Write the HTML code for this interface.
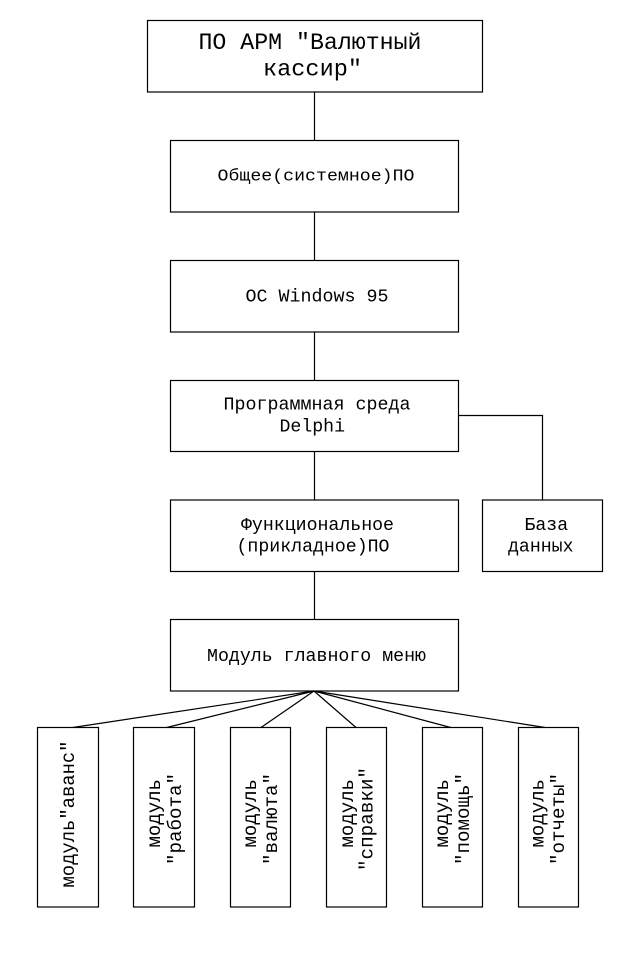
<!DOCTYPE html>
<html>
<head>
<meta charset="utf-8">
<style>
html,body{margin:0;padding:0;background:#fff;}
svg{display:block;}
text{font-family:"Liberation Mono","Noto Sans CJK JP",monospace;fill:#000;}
</style>
</head>
<body>
<svg width="618" height="957" viewBox="0 0 618 957" xmlns="http://www.w3.org/2000/svg">
<g fill="none" stroke="#000" stroke-width="1.2">
  <!-- boxes -->
  <rect x="147.5" y="20.5" width="335" height="71.5"/>
  <rect x="170.5" y="140.5" width="288" height="71.5"/>
  <rect x="170.5" y="260.5" width="288" height="71.5"/>
  <rect x="170.5" y="380.5" width="288" height="71"/>
  <rect x="170.5" y="500" width="288" height="71.5"/>
  <rect x="482.5" y="500" width="120" height="71.5"/>
  <rect x="170.5" y="619.5" width="288" height="71.5"/>
  <rect x="37.5" y="727.5" width="61" height="179.5"/>
  <rect x="133.5" y="727.5" width="61" height="179.5"/>
  <rect x="230.5" y="727.5" width="60" height="179.5"/>
  <rect x="326.5" y="727.5" width="60" height="179.5"/>
  <rect x="422.5" y="727.5" width="60" height="179.5"/>
  <rect x="518.5" y="727.5" width="60" height="179.5"/>
  <!-- vertical connectors -->
  <line x1="314.5" y1="92" x2="314.5" y2="140.5"/>
  <line x1="314.5" y1="212" x2="314.5" y2="260.5"/>
  <line x1="314.5" y1="332" x2="314.5" y2="380.5"/>
  <line x1="314.5" y1="451.5" x2="314.5" y2="500"/>
  <line x1="314.5" y1="571.5" x2="314.5" y2="619.5"/>
  <!-- DB connector -->
  <polyline points="458.5,415.5 542.5,415.5 542.5,500"/>
  <!-- fan -->
  <line x1="314" y1="691" x2="72.7" y2="727.5"/>
  <line x1="314" y1="691" x2="166.7" y2="727.5"/>
  <line x1="314" y1="691" x2="261" y2="727.5"/>
  <line x1="314" y1="691" x2="356" y2="727.5"/>
  <line x1="314" y1="691" x2="450.7" y2="727.5"/>
  <line x1="314" y1="691" x2="545" y2="727.5"/>
</g>

<!-- horizontal texts -->
<text x="198.5" y="49" font-size="23" textLength="223" lengthAdjust="spacingAndGlyphs">ПО АРМ "Валютный</text>
<text x="263" y="75.7" font-size="23" textLength="99" lengthAdjust="spacingAndGlyphs">кассир"</text>

<text x="217.5" y="180.7" font-size="17" textLength="197" lengthAdjust="spacingAndGlyphs">Общее(системное)ПО</text>
<text x="245.5" y="301.7" font-size="18" textLength="143" lengthAdjust="spacingAndGlyphs">ОС Windows 95</text>
<text x="223.5" y="409.3" font-size="18" textLength="187" lengthAdjust="spacingAndGlyphs">Программная среда</text>
<text x="279.5" y="431.7" font-size="18" textLength="65.5" lengthAdjust="spacingAndGlyphs">Delphi</text>
<text x="241" y="530" font-size="18" textLength="153" lengthAdjust="spacingAndGlyphs">Функциональное</text>
<text x="236.5" y="551.7" font-size="18" textLength="153" lengthAdjust="spacingAndGlyphs">(прикладное)ПО</text>
<text x="524.5" y="530" font-size="18" textLength="43.6" lengthAdjust="spacingAndGlyphs">База</text>
<text x="508" y="551.7" font-size="18" textLength="65.5" lengthAdjust="spacingAndGlyphs">данных</text>
<text x="207" y="661" font-size="18" textLength="219" lengthAdjust="spacingAndGlyphs">Модуль главного меню</text>

<!-- vertical texts -->
<g transform="translate(74,814) rotate(-90)">
  <text x="-73.5" y="0" font-size="19" textLength="147" lengthAdjust="spacingAndGlyphs">модуль"аванс"</text>
</g>

<g transform="translate(160,813.3) rotate(-90)">
  <text x="-34.2" y="0" font-size="19" textLength="68.4" lengthAdjust="spacingAndGlyphs">модуль</text>
</g>
<g transform="translate(181,819) rotate(-90)">
  <text x="-46" y="0" font-size="19" textLength="92" lengthAdjust="spacingAndGlyphs">"работа"</text>
</g>

<g transform="translate(256,813.3) rotate(-90)">
  <text x="-34.2" y="0" font-size="19" textLength="68.4" lengthAdjust="spacingAndGlyphs">модуль</text>
</g>
<g transform="translate(277,819) rotate(-90)">
  <text x="-46" y="0" font-size="19" textLength="92" lengthAdjust="spacingAndGlyphs">"валюта"</text>
</g>

<g transform="translate(352.8,813.3) rotate(-90)">
  <text x="-34.2" y="0" font-size="19" textLength="68.4" lengthAdjust="spacingAndGlyphs">модуль</text>
</g>
<g transform="translate(372.5,819) rotate(-90)">
  <text x="-52" y="0" font-size="19" textLength="104" lengthAdjust="spacingAndGlyphs">"справки"</text>
</g>

<g transform="translate(448,813.3) rotate(-90)">
  <text x="-34.2" y="0" font-size="19" textLength="68.4" lengthAdjust="spacingAndGlyphs">модуль</text>
</g>
<g transform="translate(468.8,819) rotate(-90)">
  <text x="-46" y="0" font-size="19" textLength="92" lengthAdjust="spacingAndGlyphs">"помощь"</text>
</g>

<g transform="translate(543.5,813.3) rotate(-90)">
  <text x="-34.2" y="0" font-size="19" textLength="68.4" lengthAdjust="spacingAndGlyphs">модуль</text>
</g>
<g transform="translate(564,819) rotate(-90)">
  <text x="-46" y="0" font-size="19" textLength="92" lengthAdjust="spacingAndGlyphs">"отчеты"</text>
</g>
</svg>
</body>
</html>
